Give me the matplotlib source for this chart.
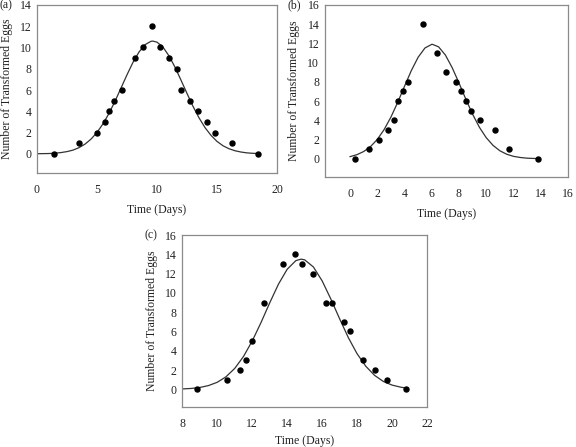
import matplotlib
matplotlib.use("Agg")
import matplotlib.pyplot as plt
import numpy as np

plt.rcParams['font.family'] = ['Liberation Serif', 'DejaVu Serif']

# observed points, panel (a)
a_days = [1.42, 3.54, 4.96, 5.65, 6.02, 6.38, 7.07, 8.13, 8.83, 9.55,
          10.28, 10.97, 11.67, 12.0, 12.73, 13.43, 14.15, 14.85, 16.27, 18.38]
a_eggs = [0, 1, 2, 3, 4, 5, 6, 9, 10, 12, 10, 9, 8, 6, 5, 4, 3, 2, 1, 0]
# fitted curve, panel (a)
a_fit_days = [0, 0.5, 1, 1.5, 2, 2.5, 3, 3.5, 4, 4.5, 5, 5.5, 6, 6.5, 7, 7.5, 8,
              8.5, 9, 9.5, 9.65, 10, 10.5, 11, 11.5, 12, 12.5, 13, 13.5, 14,
              14.5, 15, 15.5, 16, 16.5, 17, 17.5, 18, 18.4]
a_fit_eggs = [0.01, 0.02, 0.03, 0.06, 0.12, 0.21, 0.35, 0.58, 0.91, 1.38, 2.01,
              2.82, 3.80, 4.94, 6.18, 7.43, 8.60, 9.57, 10.26, 10.58, 10.6,
              10.50, 10.03, 9.21, 8.15, 6.93, 5.68, 4.47, 3.39, 2.47, 1.74,
              1.17, 0.76, 0.48, 0.29, 0.17, 0.09, 0.05, 0.03]

# panel (b)
b_days = [0.34, 1.39, 2.10, 2.80, 3.20, 3.54, 3.90, 4.24, 5.32, 6.37,
          7.07, 7.78, 8.12, 8.49, 8.85, 9.56, 10.63, 11.68, 13.83]
b_eggs = [0, 1, 2, 3, 4, 6, 7, 8, 14, 11, 9, 8, 7, 6, 5, 4, 3, 1, 0]
b_fit_days = [0, 0.5, 1, 1.5, 2, 2.5, 3, 3.5, 4, 4.5, 5, 5.5, 6, 6.05, 6.5, 7,
              7.5, 8, 8.5, 9, 9.5, 10, 10.5, 11, 11.5, 12, 12.5, 13, 13.5, 13.8]
b_fit_eggs = [0.22, 0.42, 0.75, 1.26, 2.01, 3.03, 4.33, 5.87, 7.54, 9.17, 10.56,
              11.52, 11.90, 11.9, 11.64, 10.79, 9.47, 7.88, 6.20, 4.63, 3.27,
              2.19, 1.39, 0.83, 0.47, 0.25, 0.13, 0.06, 0.03, 0.02]

# panel (c)
c_days = [8.82, 10.57, 11.28, 11.64, 12.0, 12.69, 13.75, 14.46, 14.82, 15.50,
          16.23, 16.57, 17.28, 17.62, 18.32, 19.05, 19.73, 20.78]
c_eggs = [0, 1, 2, 3, 5, 9, 13, 14, 13, 12, 9, 9, 7, 6, 3, 2, 1, 0]
c_fit_days = [8, 8.5, 9, 9.5, 10, 10.5, 11, 11.5, 12, 12.5, 13, 13.5, 14, 14.5,
              14.8, 15, 15.5, 16, 16.5, 17, 17.5, 18, 18.5, 19, 19.5, 20, 20.5, 20.8]
c_fit_eggs = [0.04, 0.09, 0.19, 0.39, 0.73, 1.30, 2.17, 3.40, 5.01, 6.91, 8.96,
              10.90, 12.45, 13.35, 13.5, 13.43, 12.69, 11.25, 9.36, 7.32, 5.36,
              3.69, 2.39, 1.45, 0.82, 0.44, 0.22, 0.14]

fig = plt.figure(figsize=(5.76, 4.47), dpi=100)

panels = [
    ('(a)', [0.0642, 0.613, 0.4167, 0.376], a_days, a_eggs, a_fit_days, a_fit_eggs,
     (0, 20), np.arange(0, 21, 5), (-1.8, 14), np.arange(0, 15, 2), 6),
    ('(b)', [0.564, 0.604, 0.422, 0.385], b_days, b_eggs, b_fit_days, b_fit_eggs,
     (-1.85, 16), np.arange(0, 17, 2), (-1.9, 16), np.arange(0, 17, 2), 6),
    ('(c)', [0.3165, 0.0902, 0.4248, 0.384], c_days, c_eggs, c_fit_days, c_fit_eggs,
     (8, 22), np.arange(8, 23, 2), (-1.8, 16), np.arange(0, 17, 2), 3.5),
]

txt = '#222222'
for lab, rect, xd, yd, fx, fy, xl, xt, yl, yt, xpad in panels:
    ax = fig.add_axes(rect)
    ax.plot(fx, fy, color='#333333', lw=0.9)
    ax.plot(xd, yd, 'o', color='black', ms=3.6)
    ax.set_xlim(*xl)
    ax.set_ylim(*yl)
    ax.set_xticks(xt)
    ax.set_yticks(yt)
    ax.tick_params(length=0, labelsize=8.5, colors=txt)
    ax.tick_params(axis='x', pad=8)
    ax.tick_params(axis='y', pad=4)
    for s in ax.spines.values():
        s.set_color('#8a8a8a')
        s.set_linewidth(0.9)
    ax.set_xlabel('Time (Days)', fontsize=8.5, color=txt, labelpad=xpad)
    ax.set_ylabel('Number of Transformed Eggs', fontsize=8.5, color=txt, labelpad=5)
    # panel letter, top left
    ax.text(-0.155, 1.0, lab, transform=ax.transAxes, fontsize=8.5, color=txt,
            ha='left', va='center')

fig.savefig('out.png', dpi=100)
